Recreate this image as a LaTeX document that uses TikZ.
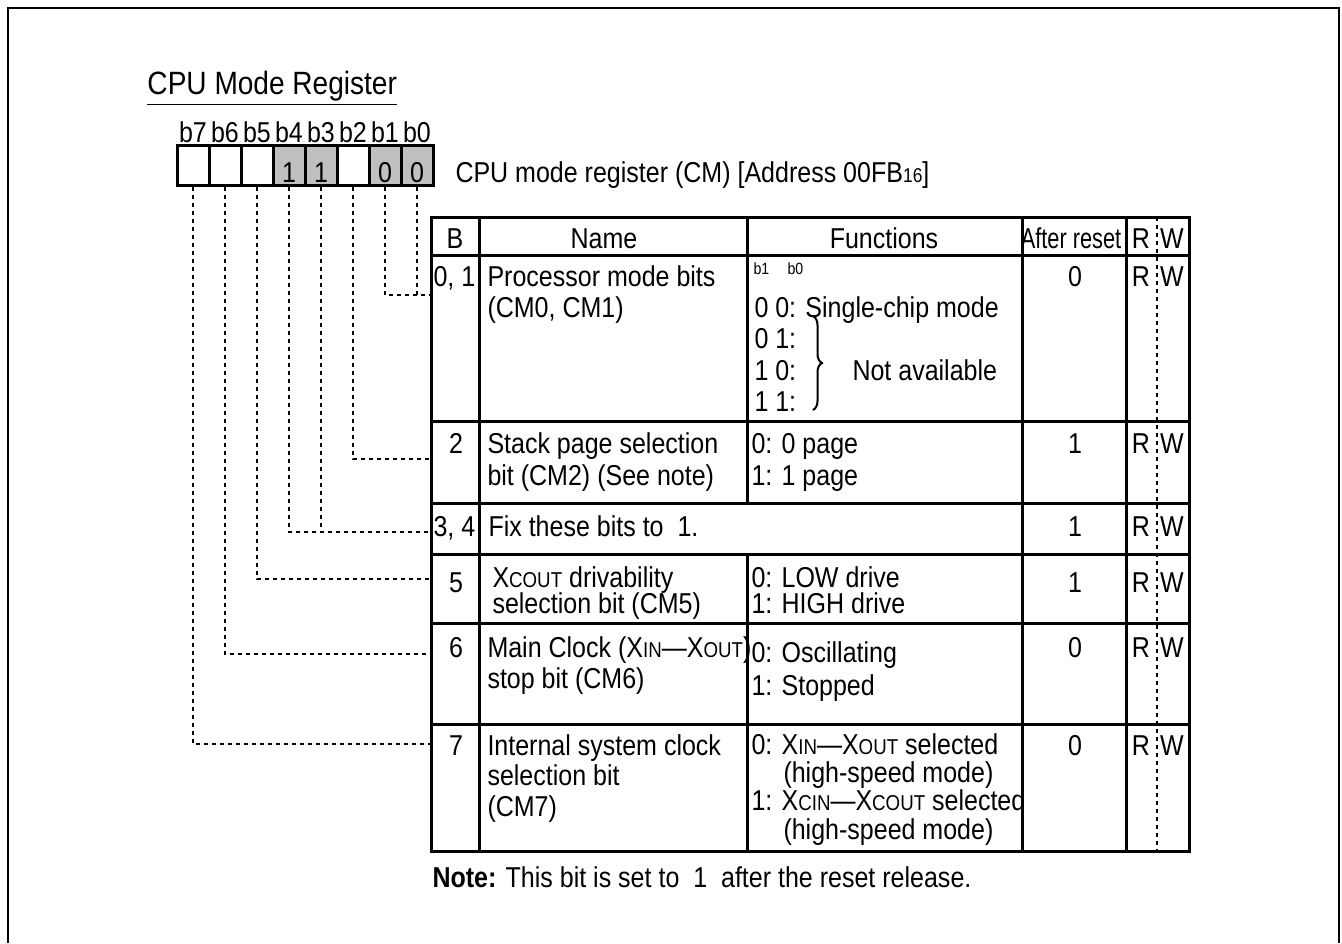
\documentclass[tikz,border=0pt]{standalone}
\usepackage{fontspec}
\setmainfont{Liberation Sans}[FakeStretch=0.87]
\usepackage{tikz}
\usetikzlibrary{decorations.pathreplacing}
\newcommand{\xsig}[2]{#1{\fontsize{8.6pt}{10pt}\selectfont #2}}

\begin{document}
\begin{tikzpicture}[x=0.4pt,y=-0.4pt,
  txt/.style={inner sep=0pt,anchor=west,text height=8.2pt,text depth=0pt,font=\fontsize{11.5pt}{13pt}\selectfont},
  ctr/.style={txt,anchor=center},
  tiny/.style={txt,font=\fontsize{6.5pt}{7pt}\selectfont,text height=4.7pt},
  bitbox/.style={draw,line width=1.2pt,minimum width=12.8pt,minimum height=16pt,inner sep=0pt},
  setbit/.style={bitbox,fill=gray!50},
  tabline/.style={line width=1.2pt},
  dashline/.style={line width=0.45pt,dash pattern=on 1.7pt off 1.5pt}]
\useasboundingbox (0,0) rectangle (1342,943);
% frame, open at the bottom
\draw[line width=1.1pt] (8,943) -- (8,8) -- (1339,8) -- (1339,943);
\node[txt,font=\fontsize{12.9pt}{15pt}\selectfont] (title) at (147,84) {\underline{CPU Mode Register}};

% register bits
\node[ctr] (l7) at (193,132) {b7};
\node[ctr] (l6) at (225,132) {b6};
\node[ctr] (l5) at (257,132) {b5};
\node[ctr] (l4) at (289,132) {b4};
\node[ctr] (l3) at (321,132) {b3};
\node[ctr] (l2) at (353,132) {b2};
\node[ctr] (l1) at (385,132) {b1};
\node[ctr] (l0) at (417,132) {b0};
\node[bitbox] (b7) at (193,165) {};
\node[bitbox] (b6) at (225,165) {};
\node[bitbox] (b5) at (257,165) {};
\node[setbit] (b4) at (289,165) {};
\node[setbit] (b3) at (321,165) {};
\node[bitbox] (b2) at (353,165) {};
\node[setbit] (b1) at (385,165) {};
\node[setbit] (b0) at (417,165) {};
\node[ctr] (v4) at (289,172) {1};
\node[ctr] (v3) at (321,172) {1};
\node[ctr] (v1) at (385,172) {0};
\node[ctr] (v0) at (417,172) {0};
\node[txt] (regname) at (455,172) {CPU mode register (CM) [Address 00FB{\fontsize{8pt}{9pt}\selectfont 16}]};

% table
\draw[tabline] (431,217) rectangle (1189,851);
\draw[tabline] (431,255) -- (1189,255);
\draw[tabline] (431,421) -- (1189,421);
\draw[tabline] (431,503) -- (1189,503);
\draw[tabline] (431,554) -- (1189,554);
\draw[tabline] (431,623) -- (1189,623);
\draw[tabline] (431,724) -- (1189,724);
\draw[tabline] (479,217) -- (479,851);
\draw[tabline] (747,217) -- (747,503) (747,554) -- (747,851);
\draw[tabline] (1022,217) -- (1022,851);
\draw[tabline] (1126,217) -- (1126,851);
\draw[dashline] (1157,217) -- (1157,851);

\node[ctr] (hb) at (455,238) {B};
\node[ctr] (hname) at (604,238) {Name};
\node[ctr] (hfun) at (884,238) {Functions};
\node[ctr] (hreset) at (1071,238) {\scalebox{0.87}[1]{After reset}};
\node[ctr] (hr) at (1141,238) {R};
\node[ctr] (hw) at (1172,238) {W};

% bits 0, 1
\node[txt] (n01) at (433,276) {0, 1};
\node[txt] (nm01a) at (487,276) {Processor mode bits};
\node[txt] (nm01b) at (487,307) {(CM0, CM1)};
\node[tiny] (f01h) at (753,269) {b1};
\node[tiny] (f01i) at (787,269) {b0};
\node[txt] (f01a) at (754,307) {0 0: Single-chip mode};
\node[txt] (f01b) at (754,338) {0 1:};
\node[txt] (f01c) at (754,370) {1 0:};
\node[txt] (f01d) at (754,401) {1 1:};
\node[txt] (f01e) at (852,370) {Not available};
\draw[decorate,decoration={brace,amplitude=3.6pt},line width=0.8pt] (813,316) -- (813,410);
\node[ctr] (a01) at (1075,276) {0};
\node[ctr] (r01) at (1141,276) {R};
\node[ctr] (w01) at (1172,276) {W};

% bit 2
\node[ctr] (n2) at (456,443) {2};
\node[txt] (nm2a) at (487,443) {Stack page selection};
\node[txt] (nm2b) at (487,475) {bit (CM2) (See note)};
\node[txt] (f2a) at (751,443) {0: 0 page};
\node[txt] (f2b) at (751,475) {1: 1 page};
\node[ctr] (a2) at (1075,443) {1};
\node[ctr] (r2) at (1141,443) {R};
\node[ctr] (w2) at (1172,443) {W};

% bits 3, 4
\node[txt] (n34) at (433,526) {3, 4};
\node[txt] (nm34) at (488,526) {Fix these bits to\ \ 1.};
\node[ctr] (a34) at (1075,526) {1};
\node[ctr] (r34) at (1141,526) {R};
\node[ctr] (w34) at (1172,526) {W};

% bit 5
\node[ctr] (n5) at (456,582) {5};
\node[txt] (nm5a) at (492,577) {\xsig{X}{COUT} drivability};
\node[txt] (nm5b) at (492,603) {selection bit (CM5)};
\node[txt] (f5a) at (751,577) {0: LOW drive};
\node[txt] (f5b) at (751,603) {1: HIGH drive};
\node[ctr] (a5) at (1075,582) {1};
\node[ctr] (r5) at (1141,582) {R};
\node[ctr] (w5) at (1172,582) {W};

% bit 6
\node[ctr] (n6) at (456,647) {6};
\node[txt] (nm6a) at (487,647) {Main Clock (\xsig{X}{IN}\textemdash\xsig{X}{OUT})};
\node[txt] (nm6b) at (487,678) {stop bit (CM6)};
\node[txt] (f6a) at (751,652) {0: Oscillating};
\node[txt] (f6b) at (751,685) {1: Stopped};
\node[ctr] (a6) at (1075,647) {0};
\node[ctr] (r6) at (1141,647) {R};
\node[ctr] (w6) at (1172,647) {W};

% bit 7
\node[ctr] (n7) at (456,745) {7};
\node[txt] (nm7a) at (487,745) {Internal system clock};
\node[txt] (nm7b) at (487,775) {selection bit};
\node[txt] (nm7c) at (487,806) {(CM7)};
\node[txt] (f7a) at (751,744) {0: \xsig{X}{IN}\textemdash\xsig{X}{OUT} selected};
\node[txt] (f7b) at (783,772) {(high-speed mode)};
\node[txt] (f7c) at (751,800) {1: \xsig{X}{CIN}\textemdash\xsig{X}{COUT} selected};
\node[txt] (f7d) at (783,829) {(high-speed mode)};
\node[ctr] (a7) at (1075,745) {0};
\node[ctr] (r7) at (1141,745) {R};
\node[ctr] (w7) at (1172,745) {W};

\node[txt] (note) at (432,877) {\textbf{Note:} This bit is set to\ \ 1\ \ after the reset release.};

% dashed leaders from the bits to the rows
\coordinate (p01) at (431,295);
\coordinate (p2) at (431,459);
\coordinate (p34) at (431,532);
\coordinate (p5) at (431,579);
\coordinate (p6) at (431,654);
\coordinate (p7) at (431,744);
\draw[dashline] (b0.south) |- (p01);
\draw[dashline] (b1.south) |- (p01);
\draw[dashline] (b2.south) |- (p2);
\draw[dashline] (b3.south) |- (p34);
\draw[dashline] (b4.south) |- (p34);
\draw[dashline] (b5.south) |- (p5);
\draw[dashline] (b6.south) |- (p6);
\draw[dashline] (b7.south) |- (p7);
\end{tikzpicture}
\end{document}
